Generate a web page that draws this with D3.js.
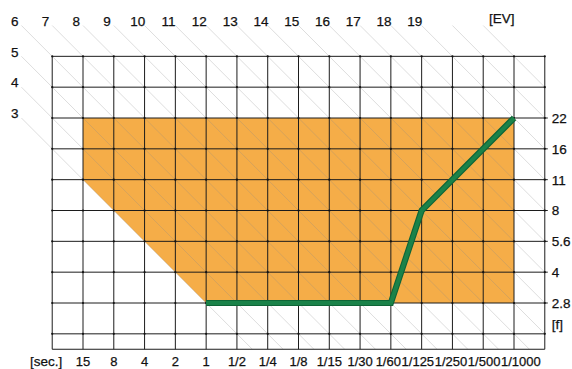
<!DOCTYPE html>
<html>
<head>
<meta charset="utf-8">
<script src="https://cdn.jsdelivr.net/npm/d3@7"></script>
<style>
html,body{margin:0;padding:0;background:#fff;}
svg{display:block;}
text{font-family:"Liberation Sans",Arial,sans-serif;fill:#111;stroke:#111;stroke-width:0.25px;}
</style>
</head>
<body>
<svg id="chart" width="572" height="369"></svg>
<script>
// ---- data ----
const shutter = ["15","8","4","2","1","1/2","1/4","1/8","1/15","1/30","1/60","1/125","1/250","1/500","1/1000"];
const fStops = ["22","16","11","8","5.6","4","2.8"];
const evTop = [6,7,8,9,10,11,12,13,14,15,16,17,18,19];
const evLeft = [5,4,3];
const evExtra = [20,21];
const programLine = [["1","2.8"],["1/60","2.8"],["1/125","8"],["1/1000","22"]];
const exposureArea = [["15","22"],["1/1000","22"],["1/1000","2.8"],["1","2.8"],["15","11"]];
const xUnit = "[sec.]", yUnit = "[f]", evUnit = "[EV]";

(function () {
// ---- scales ----
const svg = d3.select("#chart");
const x = d3.scalePoint().domain(shutter).range([83, 514]);
const y = d3.scalePoint().domain(fStops).range([118, 303]);
const xi = d3.scaleLinear().domain([0, shutter.length - 1]).range(x.range());
const yi = d3.scaleLinear().domain([0, fStops.length - 1]).range(y.range());
const jMin = -1, jMax = shutter.length;
const iMin = -2, iMax = fStops.length + 0.5;
const gLeft = xi(jMin), gRight = xi(jMax), gTop = yi(iMin), gBottom = yi(iMax);
const evBase = 5; // EV(j,i) = evBase + j - i

// ---- orange exposure area ----
svg.append("path")
  .datum(exposureArea)
  .attr("d", d3.line().x(d => x(d[0])).y(d => y(d[1])).curve(d3.curveLinearClosed))
  .attr("fill", "#f5ad48");

// ---- EV diagonals ----
function evStart(e) {
  let j = e - evBase + iMin, i = iMin;
  if (j < jMin) { j = jMin; i = j - (e - evBase); }
  return [j, i];
}
const evAll = [...evLeft, ...evTop, ...evExtra];
const diag = svg.append("g");
evAll.forEach(e => {
  const [j, i] = evStart(e);
  const t = Math.min(jMax - j, iMax - i);
  diag.append("line")
    .attr("x1", xi(j - 1.0)).attr("y1", yi(i - 1.0))
    .attr("x2", xi(j + t)).attr("y2", yi(i + t))
    .attr("stroke", "#8a8a8a").attr("stroke-opacity", 0.42).attr("stroke-width", 0.7);
});

// ---- grid ----
const grid = svg.append("g").attr("stroke", "#1c1c1c").attr("stroke-width", 1);
const vIdx = d3.range(jMin, jMax + 1);
const hIdx = [-2, -1, ...d3.range(0, fStops.length), fStops.length];
vIdx.forEach(j => grid.append("line")
  .attr("x1", xi(j)).attr("x2", xi(j)).attr("y1", gTop).attr("y2", gBottom));
hIdx.forEach(i => grid.append("line")
  .attr("x1", gLeft).attr("x2", gRight + ((i >= 0 && i < fStops.length) ? 3 : 0))
  .attr("y1", yi(i)).attr("y2", yi(i)));
grid.append("line").attr("x1", gLeft).attr("x2", gRight).attr("y1", gBottom).attr("y2", gBottom);
const dots = svg.append("g").attr("fill", "#111");
vIdx.forEach(j => hIdx.forEach(i => dots.append("circle")
  .attr("cx", xi(j)).attr("cy", yi(i)).attr("r", 1.1)));

// ---- program line ----
const pl = d3.line().x(d => x(d[0])).y(d => y(d[1]));
svg.append("path").datum(programLine).attr("d", pl)
  .attr("fill", "none").attr("stroke", "#0e6536").attr("stroke-width", 6.2)
  .attr("stroke-linejoin", "miter");
svg.append("path").datum(programLine).attr("d", pl)
  .attr("fill", "none").attr("stroke", "#1a8249").attr("stroke-width", 4)
  .attr("stroke-linejoin", "miter");

// ---- labels ----
const fs = 13.5;
const bottomLabels = svg.append("g").selectAll("text").data(shutter).join("text")
  .attr("x", d => x(d)).attr("y", 366)
  .attr("text-anchor", "middle").attr("font-size", 13)
  .text(d => d);
// simple collision relaxation so crowded labels just touch
const nodes = bottomLabels.nodes();
const cx = shutter.map(d => x(d));
const w = nodes.map(n => n.getComputedTextLength());
for (let it = 0; it < 200; it++) {
  for (let k = 0; k < cx.length - 1; k++) {
    const ov = (cx[k] + w[k] / 2 + 0.6) - (cx[k + 1] - w[k + 1] / 2);
    if (ov > 0) { cx[k] -= ov / 2; cx[k + 1] += ov / 2; }
  }
}
bottomLabels.attr("x", (d, k) => cx[k]);
svg.append("text").attr("x", xi(-1.2)).attr("y", 366)
  .attr("text-anchor", "middle").attr("font-size", fs).text(xUnit);

svg.append("g").selectAll("text").data(fStops).join("text")
  .attr("x", gRight + 7).attr("y", d => y(d)).attr("dy", "0.36em")
  .attr("font-size", fs).text(d => d);
svg.append("text").attr("x", gRight + 7).attr("y", yi(fStops.length - 0.3)).attr("dy", "0.36em")
  .attr("font-size", fs).text(yUnit);

const evLab = svg.append("g").attr("font-size", fs).attr("text-anchor", "middle");
[...evTop, ...evLeft].forEach(e => {
  const [j, i] = evStart(e);
  evLab.append("text")
    .attr("x", xi(j - 1.22)).attr("y", yi(i - 1.15)).attr("dy", "0.36em")
    .text(e);
});
svg.append("text").attr("x", xi(13.6)).attr("y", yi(-3.25)).attr("dy", "0.36em")
  .attr("font-size", fs).attr("text-anchor", "middle").text(evUnit);
})();
</script>
</body>
</html>
